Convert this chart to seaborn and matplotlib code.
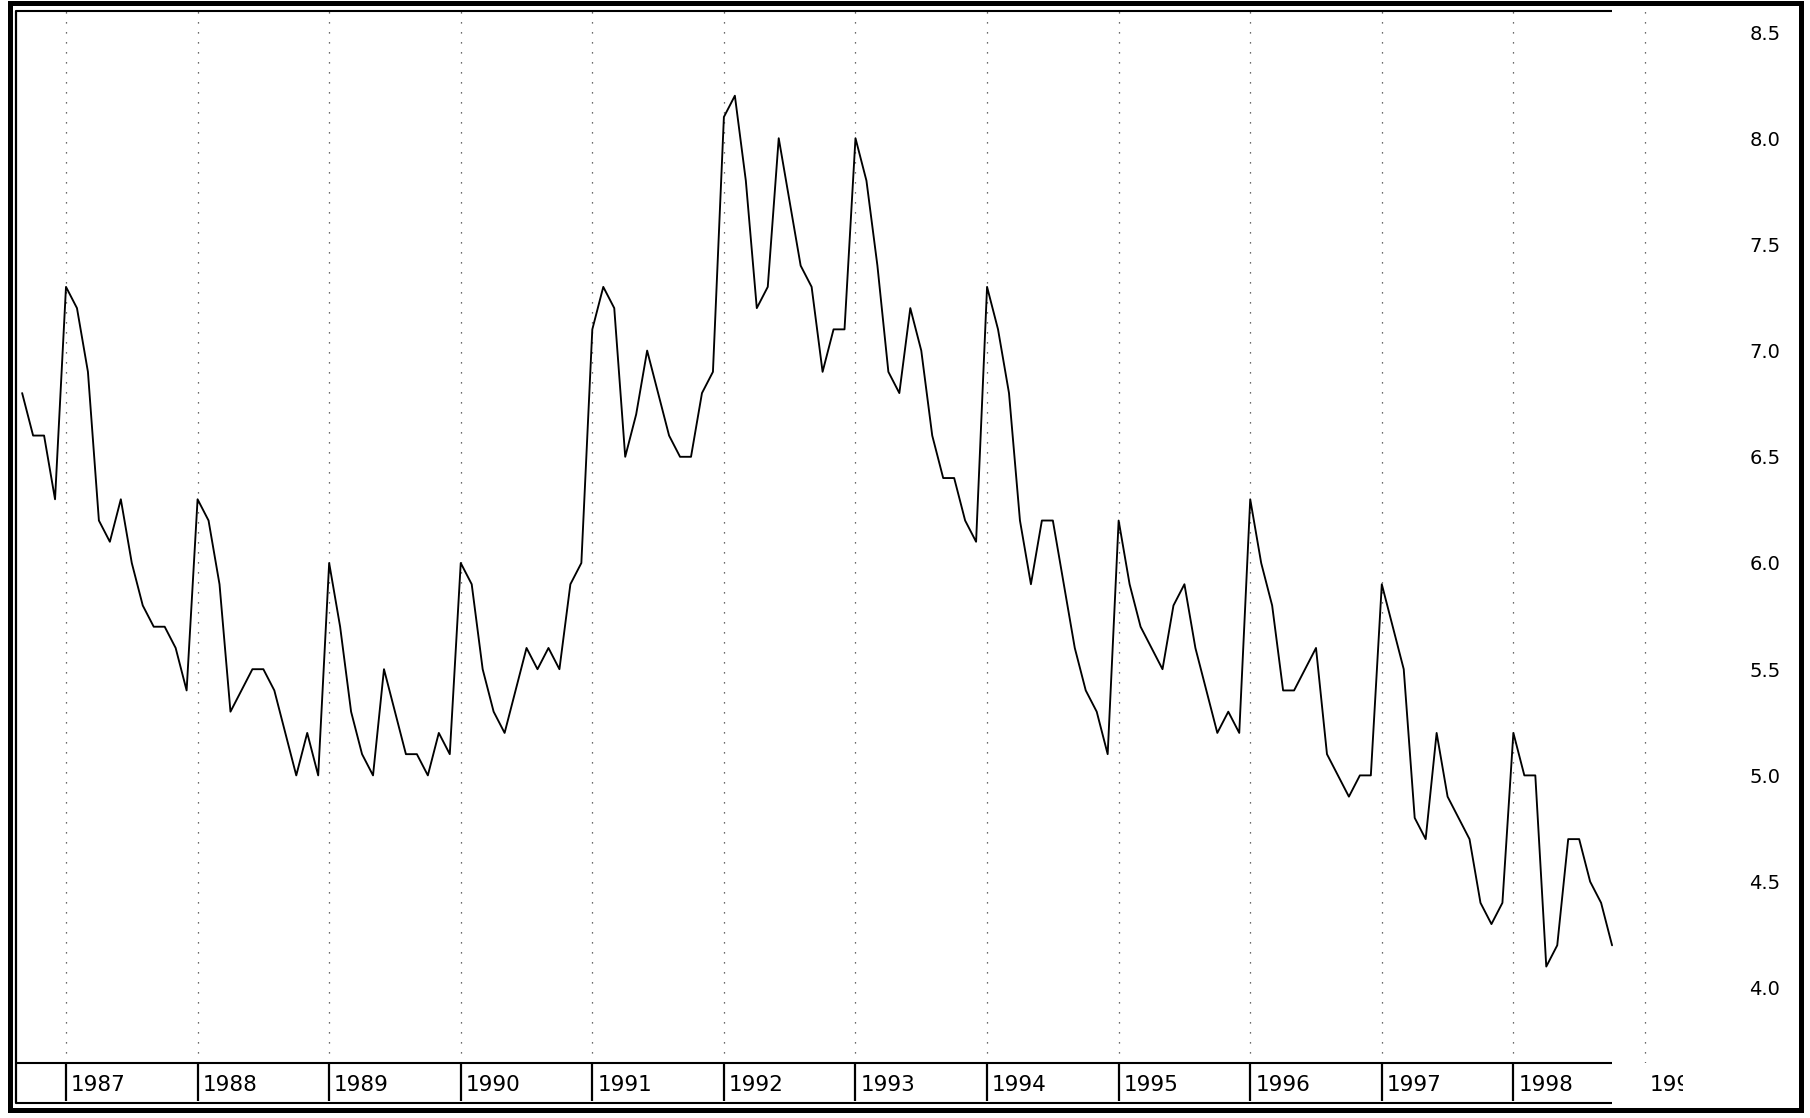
import numpy as np
import pandas as pd
import matplotlib
matplotlib.use("Agg")
import matplotlib.pyplot as plt
import matplotlib.transforms as mtransforms
from matplotlib.patches import Rectangle
from matplotlib.lines import Line2D
import seaborn as sns

# ---- data: monthly rate, Sep 1986 .. Oct 1998 ----
rate_1986 = [6.8, 6.6, 6.6, 6.3]                                   # Sep-Dec
rate_1987 = [7.3, 7.2, 6.9, 6.2, 6.1, 6.3, 6.0, 5.8, 5.7, 5.7, 5.6, 5.4]
rate_1988 = [6.3, 6.2, 5.9, 5.3, 5.4, 5.5, 5.5, 5.4, 5.2, 5.0, 5.2, 5.0]
rate_1989 = [6.0, 5.7, 5.3, 5.1, 5.0, 5.5, 5.3, 5.1, 5.1, 5.0, 5.2, 5.1]
rate_1990 = [6.0, 5.9, 5.5, 5.3, 5.2, 5.4, 5.6, 5.5, 5.6, 5.5, 5.9, 6.0]
rate_1991 = [7.1, 7.3, 7.2, 6.5, 6.7, 7.0, 6.8, 6.6, 6.5, 6.5, 6.8, 6.9]
rate_1992 = [8.1, 8.2, 7.8, 7.2, 7.3, 8.0, 7.7, 7.4, 7.3, 6.9, 7.1, 7.1]
rate_1993 = [8.0, 7.8, 7.4, 6.9, 6.8, 7.2, 7.0, 6.6, 6.4, 6.4, 6.2, 6.1]
rate_1994 = [7.3, 7.1, 6.8, 6.2, 5.9, 6.2, 6.2, 5.9, 5.6, 5.4, 5.3, 5.1]
rate_1995 = [6.2, 5.9, 5.7, 5.6, 5.5, 5.8, 5.9, 5.6, 5.4, 5.2, 5.3, 5.2]
rate_1996 = [6.3, 6.0, 5.8, 5.4, 5.4, 5.5, 5.6, 5.1, 5.0, 4.9, 5.0, 5.0]
rate_1997 = [5.9, 5.7, 5.5, 4.8, 4.7, 5.2, 4.9, 4.8, 4.7, 4.4, 4.3, 4.4]
rate_1998 = [5.2, 5.0, 5.0, 4.1, 4.2, 4.7, 4.7, 4.5, 4.4, 4.2]     # Jan-Oct
start_month = "1986-09-01"

year_ticks = list(range(1987, 2000))
year_labels = [str(y) for y in year_ticks]
y_ticks = [4.0, 4.5, 5.0, 5.5, 6.0, 6.5, 7.0, 7.5, 8.0, 8.5]
y_labels = ["4.0", "4.5", "5.0", "5.5", "6.0", "6.5", "7.0", "7.5", "8.0", "8.5"]

rates = (rate_1986 + rate_1987 + rate_1988 + rate_1989 + rate_1990 + rate_1991 +
         rate_1992 + rate_1993 + rate_1994 + rate_1995 + rate_1996 + rate_1997 + rate_1998)
dates = pd.date_range(start_month, periods=len(rates), freq="MS")
df = pd.DataFrame({"x": dates.year + (dates.month - 1) / 12.0, "rate": rates})

# ---- figure geometry (pixels) ----
W, H = 1810, 1118
sns.set_style("white")
plt.rcParams["font.family"] = ["DejaVu Sans"]

fig = plt.figure(figsize=(W / 100, H / 100), dpi=100)
fig.patch.set_facecolor("white")

def fy(y):
    return 1 - y / H

ax_l, ax_r, ax_t, ax_b = 16, 1745, 11, 1063
ax = fig.add_axes([ax_l / W, fy(ax_b), (ax_r - ax_l) / W, (ax_b - ax_t) / H])
band = fig.add_axes([ax_l / W, fy(1103), (ax_r - ax_l) / W, (1103 - ax_b) / H])

px_per_year = 131.58
x0_px = 66  # position of 1987.0
xlim = (1987 + (ax_l - x0_px) / px_per_year, 1987 + (ax_r - x0_px) / px_per_year)
px_per_unit = 212.4
ylim = (8.5 - (ax_b - 32) / px_per_unit, 8.5 - (ax_t - 32) / px_per_unit)

sns.lineplot(data=df, x="x", y="rate", ax=ax, color="black", linewidth=1.35)
ax.set_xlim(*xlim)
ax.set_ylim(*ylim)
ax.set_xlabel("")
ax.set_ylabel("")
for s in ax.spines.values():
    s.set_visible(False)

ax.set_xticks(year_ticks)
ax.tick_params(axis="x", length=0, labelbottom=False)
ax.grid(True, axis="x", color="#3a3a3a", linestyle=(0, (1, 7)), linewidth=0.9)
ax.grid(False, axis="y")
ax.yaxis.tick_right()
ax.set_yticks(y_ticks, y_labels)
ax.tick_params(axis="y", length=0, pad=3, labelsize=14, labelcolor="black")

x_last = df["x"].max()
# inner top line
ax.hlines(ylim[1], xlim[0], x_last, color="black", linewidth=1.5, clip_on=False)

# ---- x label band ----
band.set_xlim(*xlim)
band.set_ylim(0, 1)
band.axis("off")
band.hlines([1.0, 0.0], xlim[0], x_last, color="black", linewidth=1.5, clip_on=False)
tick_years = [y for y in year_ticks if y <= x_last]
band.vlines(tick_years, 0.05, 1.0, color="black", linewidth=1.6)
offset = mtransforms.ScaledTranslation(5 / 100, 0, fig.dpi_scale_trans)
clip_bbox = mtransforms.TransformedBbox(
    mtransforms.Bbox([[ax_l / W, 0], [1683 / W, 1]]), fig.transFigure)
for yr, lab in zip(year_ticks, year_labels):
    t = band.text(yr, 0.45, lab, transform=band.transData + offset,
                  ha="left", va="center", fontsize=15.5, color="black")
    t.set_clip_box(clip_bbox)
    t.set_clip_on(True)

# ---- frames ----
fig.add_artist(Line2D([ax_l / W, ax_l / W], [fy(ax_t), fy(1103)],
                      transform=fig.transFigure, color="black", linewidth=1.6))
fig.add_artist(Rectangle((9.5 / W, fy(1110)), (1801 - 9.5) / W, (1110 - 2.5) / H,
                         transform=fig.transFigure, fill=False,
                         edgecolor="black", linewidth=3.6))

fig.savefig("out.png", dpi=100, facecolor="white")
